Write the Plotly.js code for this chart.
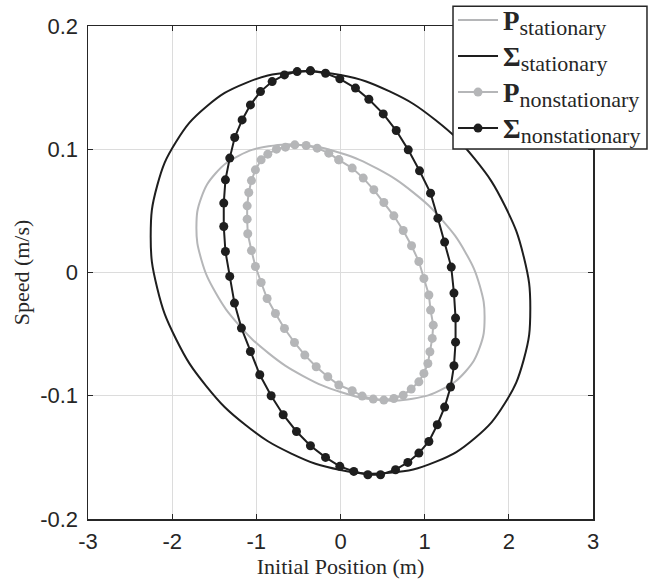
<!DOCTYPE html>
<html>
<head>
<meta charset="utf-8">
<script src="https://cdn.plot.ly/plotly-3.0.1.min.js"></script>
<style>html,body{margin:0;padding:0;background:#fff;}</style>
</head>
<body>
<div id="chart" style="width:648px;height:585px;"></div>
<script>
// ---- data ----
const legendSymbols = ['P', 'Σ', 'P', 'Σ'];
const legendSubs = ['stationary', 'stationary', 'nonstationary', 'nonstationary'];

const xTickVals = [-3, -2, -1, 0, 1, 2, 3];
const xTickText = ['-3', '-2', '-1', '0', '1', '2', '3'];
const yTickVals = [-0.2, -0.1, 0, 0.1, 0.2];
const yTickText = ['-0.2', '-0.1', '0', '0.1', '0.2'];

// P stationary (grey solid ellipse)
const pStatX = [1.712, 1.654, 1.483, 1.211, 0.856, 0.443, 0.000, -0.443, -0.856, -1.211, -1.483, -1.654,
  -1.712, -1.654, -1.483, -1.211, -0.856, -0.443, 0.000, 0.443, 0.856, 1.211, 1.483, 1.654, 1.712];
const pStatY = [-0.0370, -0.0106, 0.0165, 0.0423, 0.0654, 0.0840, 0.0969, 0.1032, 0.1024, 0.0947, 0.0805, 0.0608,
  0.0370, 0.0106, -0.0165, -0.0423, -0.0654, -0.0840, -0.0969, -0.1032, -0.1024, -0.0947, -0.0805, -0.0608, -0.0370];

// Sigma stationary (black solid ellipse)
const sStatX = [2.255, 2.178, 1.953, 1.595, 1.128, 0.584, 0.000, -0.584, -1.128, -1.595, -1.953, -2.178,
  -2.255, -2.178, -1.953, -1.595, -1.128, -0.584, 0.000, 0.584, 1.128, 1.595, 1.953, 2.178, 2.255];
const sStatY = [-0.0300, 0.0125, 0.0541, 0.0921, 0.1237, 0.1469, 0.1602, 0.1625, 0.1537, 0.1345, 0.1061, 0.0705,
  0.0300, -0.0125, -0.0541, -0.0921, -0.1237, -0.1469, -0.1602, -0.1625, -0.1537, -0.1345, -0.1061, -0.0705, -0.0300];

// P nonstationary (grey with markers)
const pNonX = [-0.020, -0.139, -0.277, -0.408, -0.543, -0.654, -0.761, -0.864, -0.943, -1.011, -1.058, -1.090, -1.109,
  -1.109, -1.102, -1.058, -1.011, -0.943, -0.872, -0.773, -0.666, -0.547, -0.424, -0.289, -0.151, -0.020,
  0.139, 0.258, 0.389, 0.515, 0.634, 0.745, 0.840, 0.931, 0.991, 1.038, 1.062, 1.090, 1.102, 1.070, 1.050,
  0.991, 0.931, 0.844, 0.745, 0.634, 0.515, 0.396, 0.270, 0.139, -0.020];
const pNonY = [0.0914, 0.0968, 0.1009, 0.1030, 0.1036, 0.1017, 0.1001, 0.0960, 0.0914, 0.0833, 0.0746, 0.0649, 0.0541,
  0.0433, 0.0314, 0.0178, 0.0049, -0.0081, -0.0211, -0.0333, -0.0454, -0.0568, -0.0670, -0.0765, -0.0846, -0.0913,
  -0.0959, -0.1003, -0.1027, -0.1035, -0.1022, -0.0995, -0.0946, -0.0887, -0.0819, -0.0738, -0.0643, -0.0535, -0.0427, -0.0305, -0.0183,
  -0.0049, 0.0089, 0.0217, 0.0341, 0.0460, 0.0568, 0.0671, 0.0766, 0.0847, 0.0914];

// Sigma nonstationary (black with markers)
const sNonX = [-0.357, -0.515, -0.666, -0.812, -0.951, -1.070, -1.169, -1.257, -1.316, -1.367, -1.387, -1.387, -1.367,
  -1.316, -1.260, -1.177, -1.070, -0.959, -0.824, -0.681, -0.523, -0.357, -0.178, -0.008, 0.158, 0.325,
  0.476, 0.654, 0.800, 0.931, 1.050, 1.150, 1.237, 1.308, 1.348, 1.367, 1.367, 1.348, 1.316, 1.237, 1.157,
  1.070, 0.939, 0.805, 0.662, 0.508, 0.337, 0.178, -0.008, -0.178, -0.357];
const sNonY = [0.1636, 0.1630, 0.1603, 0.1549, 0.1468, 0.1360, 0.1238, 0.1095, 0.0928, 0.0752, 0.0563, 0.0373, 0.0170,
  -0.0032, -0.0248, -0.0451, -0.0641, -0.0830, -0.1000, -0.1154, -0.1290, -0.1406, -0.1500, -0.1573, -0.1614, -0.1641,
  -0.1641, -0.1600, -0.1541, -0.1465, -0.1371, -0.1235, -0.1092, -0.0929, -0.0757, -0.0565, -0.0370, -0.0167, 0.0044, 0.0247, 0.0441,
  0.0644, 0.0825, 0.0995, 0.1152, 0.1287, 0.1406, 0.1496, 0.1571, 0.1617, 0.1636];

// ---- styles ----
const BLACK = '#1e1e1e';
const GREY = '#b5b6b8';
const AXIS = '#262626';
const SERIF = 'Liberation Serif, Times New Roman, serif';

function legendName(i) {
  return '<span style="font-family:' + SERIF + ';font-size:27px"><b>' + legendSymbols[i] + '</b></span>' +
         '<sub><span style="font-family:' + SERIF + ';font-size:22px">' + legendSubs[i] + '</span></sub>';
}

const traces = [
  {x: pStatX, y: pStatY, name: legendName(0), mode: 'lines',
   line: {color: GREY, width: 2, shape: 'spline', smoothing: 1.3}},
  {x: sStatX, y: sStatY, name: legendName(1), mode: 'lines',
   line: {color: BLACK, width: 2, shape: 'spline', smoothing: 1.3}},
  {x: pNonX, y: pNonY, name: legendName(2), mode: 'lines+markers',
   line: {color: GREY, width: 2}, marker: {color: GREY, size: 9}},
  {x: sNonX, y: sNonY, name: legendName(3), mode: 'lines+markers',
   line: {color: BLACK, width: 2}, marker: {color: BLACK, size: 9}}
];

const tickFont = {family: 'Liberation Sans, Arial, sans-serif', size: 22, color: AXIS};
const titleFont = {family: SERIF, size: 22, color: AXIS};

const layout = {
  width: 648, height: 585,
  margin: {l: 88, r: 55, t: 26, b: 66, pad: 0, autoexpand: false},
  paper_bgcolor: '#ffffff', plot_bgcolor: '#ffffff',
  showlegend: true,
  xaxis: {
    range: [-3, 3], tickmode: 'array', tickvals: xTickVals, ticktext: xTickText,
    ticks: 'inside', ticklen: 5, tickwidth: 1.2, tickcolor: AXIS,
    showline: true, linecolor: AXIS, linewidth: 1.5, mirror: 'ticks',
    showgrid: true, gridcolor: '#dcdcdc', gridwidth: 1, zeroline: false,
    tickfont: tickFont, ticklabelstandoff: 2, automargin: false,
    title: {text: 'Initial Position (m)', font: titleFont, standoff: 3}
  },
  yaxis: {
    range: [-0.2, 0.2], tickmode: 'array', tickvals: yTickVals, ticktext: yTickText,
    ticks: 'inside', ticklen: 5, tickwidth: 1.2, tickcolor: AXIS,
    showline: true, linecolor: AXIS, linewidth: 1.5, mirror: 'ticks',
    showgrid: true, gridcolor: '#dcdcdc', gridwidth: 1, zeroline: false,
    tickfont: tickFont, ticklabelstandoff: 4, automargin: false,
    title: {text: 'Speed (m/s)', font: titleFont, standoff: 4}
  },
  // legend frame (white box with dark border) drawn above the curves
  shapes: [{
    type: 'rect', xref: 'paper', yref: 'paper', layer: 'above',
    x0: 0.7228, x1: 1.1069, y0: 0.7505, y1: 1.0403,
    fillcolor: '#ffffff', line: {color: AXIS, width: 1.5}
  }],
  legend: {
    x: 0.7228, y: 1.0588, xanchor: 'left', yanchor: 'top',
    bgcolor: 'rgba(0,0,0,0)', borderwidth: 0,
    font: {family: SERIF, size: 25.4, color: AXIS},
    itemwidth: 40, tracegroupgap: 0
  }
};

Plotly.newPlot('chart', traces, layout, {displayModeBar: false, staticPlot: true});
</script>
</body>
</html>
